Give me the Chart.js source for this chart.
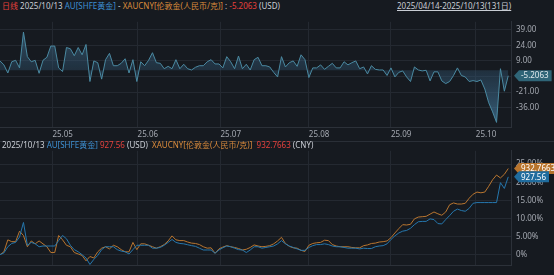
<!DOCTYPE html>
<html>
<head>
<meta charset="utf-8">
<script src="https://cdn.jsdelivr.net/npm/chart.js@4/dist/chart.umd.min.js"></script>
<style>
  html, body { margin: 0; padding: 0; background: #161a20; }
  body { width: 554px; height: 275px; position: relative; overflow: hidden;
         font-family: "Noto Sans", "Noto Sans CJK SC", sans-serif; font-size: 8px; }
  .hdr { position: absolute; left: 2px; white-space: nowrap; line-height: 10px; color: #c9cdd4; }
  .red { color: #e5403c; }
  .blue { color: #3d8fd1; }
  .orange { color: #d98a3b; }
  #range { position: absolute; left: 397px; top: 1px; line-height: 10px; color: #c9cdd4;
           text-decoration: underline; white-space: nowrap; }
  #topWrap { position: absolute; left: 0; top: 12px; }
  #botWrap { position: absolute; left: 0; top: 141px; }
  #sep { position: absolute; left: 0; top: 141px; width: 554px; height: 1px; background: #2a2f37; }
</style>
</head>
<body>
<div class="hdr" style="top:1px">
  <span class="red">日线</span> 2025/10/13 <span class="blue">AU[SHFE黄金]</span> - <span class="orange">XAUCNY[伦敦金(人民币/克)]</span> : <span class="red">-5.2063</span> (USD)
</div>
<div id="range">2025/04/14-2025/10/13(131日)</div>
<div id="topWrap"><canvas id="topChart" width="554" height="129"></canvas></div>
<div id="sep"></div>
<div id="botWrap"><canvas id="botChart" width="554" height="134"></canvas></div>
<div class="hdr" style="top:140px">
  2025/10/13 <span class="blue">AU[SHFE黄金]</span> <span class="red">927.56</span> (USD) &nbsp;<span class="orange">XAUCNY[伦敦金(人民币/克)]</span> &nbsp;<span class="red">932.7663</span> (CNY)
</div>

<script>
// price gap AU - XAUCNY, one value per trading day (131 days)
var spread = [
  9.0, 5.2, -2.6, 8.2, 9.6, 2.3, 36.7, 13.1, 8.2, 9.6,
  -2.9, 9.6, 12.5, 23.3, 23.3, 2.3, -1.2, 21.9, 20.7, 14.0,
  21.9, 14.9, 24.8, -10.8, 9.0, 7.3, -8.5, 10.2, 16.3, 4.4,
  4.4, 6.7, 11.1, -2.6, 10.2, -10.8, 8.2, 4.4, 9.6, 16.9,
  7.3, 6.7, 1.5, 3.8, 1.5, 10.2, 1.5, 5.8, 1.5, 0.3,
  2.9, 4.4, 4.4, 8.2, 10.2, 6.1, 6.1, 2.3, 13.1, 8.2,
  1.5, 13.7, 1.5, 5.8, 0.3, 10.2, 12.5, 4.4, 4.4, 3.2,
  -2.0, -6.4, 13.1, 3.2, 7.3, 9.0, 3.8, 14.9, 10.2, -7.0,
  2.3, 2.3, 5.2, 0.9, 3.8, 6.7, 2.3, 2.3, 8.2, 5.2,
  7.3, 9.0, 1.5, 3.2, -3.5, 4.4, 0.9, 0.3, 0.3, -5.0,
  2.3, -6.4, -2.0, -0.6, -6.4, -10.8, 3.2, 0.3, -0.6, 0.0,
  -10.2, -1.5, -1.5, -10.2, -12.8, -10.8, -5.0, 2.3, -5.0, -6.4,
  -10.8, -9.9, -10.8, -9.3, -18.0, -31.2, -40.0, -50.1, 1.5, -20.1,
  -5.2063
];

// percent change since 2025/04/14
var auPct = [
  0.0, 0.5, 2.2, 3.1, 3.4, 4.9, 8.9, 2.6, 3.4, 3.0,
  2.2, 2.4, 2.4, 2.4, 2.4, 3.9, 5.3, 4.4, 2.6, 1.4,
  0.8, 0.0, -0.9, -2.7, -1.3, -0.2, 1.4, 2.2, 2.2, 2.2,
  1.4, 1.0, 0.8, 0.2, 1.4, 2.6, 2.6, 2.6, 2.6, 1.8,
  1.8, 2.0, 2.6, 3.4, 4.2, 3.4, 3.1, 3.0, 2.75, 2.5,
  2.3, 1.8, 1.3, 1.3, 1.3, 0.4, 1.3, 1.9, 2.4, 2.2,
  1.8, 1.4, 1.3, 0.6, 1.3, 2.2, 2.2, 1.8, 2.0, 2.2,
  2.4, 3.0, 3.9, 3.0, 2.4, 2.0, 1.6, 1.2, 1.2, 2.0,
  2.5, 2.8, 2.8, 3.0, 2.8, 2.4, 2.2, 2.2, 2.0, 1.8,
  1.8, 1.8, 1.6, 1.8, 1.7, 1.7, 2.2, 2.4, 2.5, 3.0,
  4.2, 5.2, 6.0, 6.5, 6.7, 7.3, 8.3, 9.1, 9.2, 9.2,
  9.9, 9.7, 8.6, 8.5, 9.7, 10.8, 12.0, 12.6, 12.2, 12.0,
  12.8, 14.2, 14.4, 14.4, 14.4, 14.4, 14.4, 14.4, 19.9, 18.3,
  21.5
];
var xauPct = [
  0.0, 0.8, 4.1, 3.6, 3.6, 6.5, 5.3, 2.2, 3.8, 3.0,
  3.8, 3.0, 2.2, 0.6, 0.6, 5.3, 4.1, 2.6, 2.2, 0.6,
  0.2, -0.2, -1.7, -0.5, -0.9, 0.8, 1.8, 2.2, 1.6, 2.6,
  2.2, 1.4, 0.8, 0.8, 3.4, 1.4, 3.0, 3.0, 2.6, 2.2,
  1.8, 2.2, 2.8, 3.8, 5.2, 4.1, 3.9, 3.9, 3.5, 3.2,
  3.1, 2.8, 2.2, 1.8, 1.9, 0.4, 1.6, 2.1, 2.5, 2.2,
  2.0, 1.7, 1.3, 1.5, 2.0, 2.7, 2.4, 2.2, 2.3, 2.5,
  3.0, 3.8, 4.8, 3.1, 2.3, 1.9, 1.8, 1.2, 0.9, 2.6,
  3.1, 3.3, 3.4, 4.0, 3.9, 2.8, 2.4, 2.2, 2.2, 2.2,
  2.0, 1.9, 1.9, 2.5, 2.7, 3.1, 3.2, 3.5, 3.6, 3.8,
  4.7, 6.0, 7.2, 8.3, 8.2, 8.4, 9.9, 10.4, 10.5, 10.6,
  11.2, 11.8, 11.3, 10.9, 11.8, 13.8, 14.3, 14.0, 14.0, 14.2,
  15.6, 16.7, 17.3, 17.1, 17.3, 18.9, 20.7, 22.0, 21.2, 22.2,
  23.8
];

var monthLabels = ['25.05', '25.06', '25.07', '25.08', '25.09', '25.10'];
var monthPos = [13.4, 35.2, 56.4, 79.0, 100.0, 121.7];   // day index where month line sits
var spreadTicks = [-36, -21, -6, 9, 24, 39];
var pctTicks = [0, 5, 10, 15, 20, 25];

var gridColor = '#242931';
var tickColor = '#a4a8b0';
var tickFont = { family: 'Noto Sans', size: 8 };

function toXY(arr) {
    return arr.map(function (v, i) { return { x: i, y: v }; });
}

// price tag on the right axis at the last value of a dataset
var lastTag = {
    id: 'lastTag',
    afterDatasetsDraw: function (chart, args, opts) {
        var ctx = chart.ctx;
        var area = chart.chartArea;
        (opts.tags || []).forEach(function (t) {
            var ds = chart.data.datasets[t.ds].data;
            var y = chart.scales.y.getPixelForValue(ds[ds.length - 1].y);
            ctx.save();
            ctx.font = '8px "Noto Sans"';
            var w = ctx.measureText(t.text).width + 5;
            var x0 = area.right + 3, h = 11;
            ctx.fillStyle = t.bg;
            ctx.beginPath();
            ctx.moveTo(x0, y);
            ctx.lineTo(x0 + 5, y - h / 2);
            ctx.lineTo(x0 + 5 + w, y - h / 2);
            ctx.lineTo(x0 + 5 + w, y + h / 2);
            ctx.lineTo(x0 + 5, y + h / 2);
            ctx.closePath();
            ctx.fill();
            ctx.fillStyle = t.fg;
            ctx.textBaseline = 'middle';
            ctx.fillText(t.text, x0 + 7, y + 0.5);
            ctx.restore();
        });
    }
};

var xBase = {
    type: 'linear',
    min: 0,
    max: 130.7,
    afterBuildTicks: function (s) {
        s.ticks = monthPos.map(function (v) { return { value: v }; });
    },
    grid: { color: gridColor, drawTicks: false },
    border: { color: '#2c3139' }
};

var topChart = new Chart(document.getElementById('topChart'), {
    type: 'line',
    data: {
        datasets: [{
            data: toXY(spread),
            borderColor: '#4b8aa2',
            borderWidth: 1,
            pointRadius: 0,
            tension: 0,
            fill: 'origin',
            backgroundColor: function (c) {
                var ch = c.chart, a = ch.chartArea;
                if (!a) return 'rgba(60,110,140,0.4)';
                var z = ch.scales.y.getPixelForValue(0);
                var f = Math.min(Math.max((z - a.top) / (a.bottom - a.top), 0), 1);
                var g = ch.ctx.createLinearGradient(0, a.top, 0, a.bottom);
                g.addColorStop(0, 'rgba(78,135,170,0.55)');
                g.addColorStop(f, 'rgba(45,75,100,0.45)');
                g.addColorStop(1, 'rgba(78,140,180,0.65)');
                return g;
            }
        }]
    },
    options: {
        responsive: false,
        animation: false,
        devicePixelRatio: 1,
        layout: { padding: 0 },
        plugins: {
            legend: { display: false },
            tooltip: { enabled: false },
            lastTag: { tags: [{ ds: 0, text: '-5.2063', bg: '#2f6577', fg: '#dfe9ec' }] }
        },
        scales: {
            x: Object.assign({}, xBase, {
                afterFit: function (s) { s.height = 14; },
                ticks: {
                    autoSkip: false, maxRotation: 0, align: 'start', padding: 3,
                    color: tickColor, font: tickFont,
                    callback: function (v, i) { return monthLabels[i]; }
                }
            }),
            y: {
                position: 'right',
                min: -54.5,
                max: 46.6,
                afterBuildTicks: function (s) {
                    s.ticks = spreadTicks.map(function (v) { return { value: v }; });
                },
                afterFit: function (s) { s.width = 43; },
                grid: { color: gridColor, drawTicks: false },
                border: { color: '#2c3139' },
                ticks: {
                    padding: 5, color: tickColor, font: tickFont,
                    callback: function (v) { return v.toFixed(2); }
                }
            }
        }
    },
    plugins: [lastTag]
});

var botChart = new Chart(document.getElementById('botChart'), {
    type: 'line',
    data: {
        datasets: [{
            label: 'AU',
            data: toXY(auPct),
            borderColor: '#2677ad',
            borderWidth: 1,
            pointRadius: 0,
            tension: 0
        }, {
            label: 'XAUCNY',
            data: toXY(xauPct),
            borderColor: '#b97630',
            borderWidth: 1,
            pointRadius: 0,
            tension: 0
        }]
    },
    options: {
        responsive: false,
        animation: false,
        devicePixelRatio: 1,
        layout: { padding: 0 },
        plugins: {
            legend: { display: false },
            tooltip: { enabled: false },
            lastTag: {
                tags: [
                    { ds: 1, text: '932.7663', bg: '#b8742d', fg: '#ffffff' },
                    { ds: 0, text: '927.56', bg: '#1f6c9e', fg: '#ffffff' }
                ]
            }
        },
        scales: {
            x: Object.assign({}, xBase, {
                afterFit: function (s) { s.height = 0; },
                ticks: { display: false }
            }),
            y: {
                position: 'right',
                min: -2.9,
                max: 28.7,
                afterBuildTicks: function (s) {
                    s.ticks = pctTicks.map(function (v) { return { value: v }; });
                },
                afterFit: function (s) { s.width = 43; },
                grid: { color: gridColor, drawTicks: false },
                border: { color: '#2c3139' },
                ticks: {
                    padding: 5, color: tickColor, font: tickFont,
                    callback: function (v) { return v === 0 ? '0%' : v.toFixed(2) + '%'; }
                }
            }
        }
    },
    plugins: [lastTag]
});
</script>
</body>
</html>
